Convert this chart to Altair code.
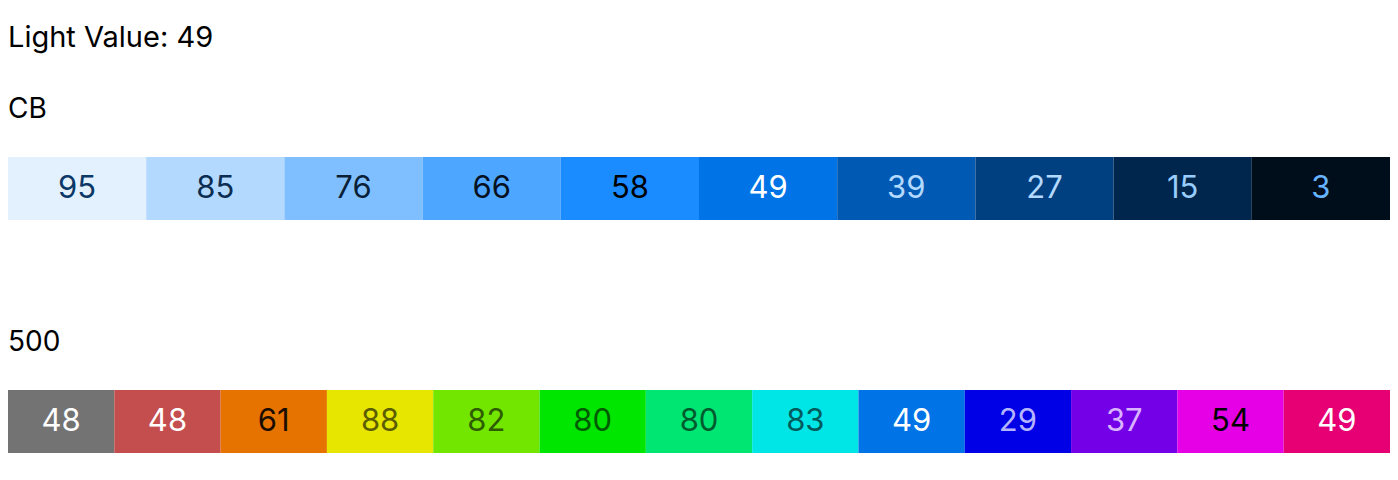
import altair as alt
import pandas as pd

# swatch rows
cb_values = [95, 85, 76, 66, 58, 49, 39, 27, 15, 3]
cb_fill = ["#E3F1FF", "#B3D9FF", "#80BFFF", "#4DA6FF", "#1A8CFF",
           "#0073E6", "#0059B3", "#004080", "#00264D", "#000D1A"]
cb_text = ["#0B3866", "#0B2D52", "#0A1F38", "#05111F", "#000000",
           "#FFFFFF", "#B3D9FF", "#B3D9FF", "#99CCFF", "#66B3FF"]

hue_values = [48, 48, 61, 88, 82, 80, 80, 83, 49, 29, 37, 54, 49]
hue_fill = ["#737373", "#C44D4D", "#E67300", "#E6E600", "#73E600", "#00E600",
            "#00E673", "#00E6E6", "#0073E6", "#0000E6", "#7300E6", "#E600E6",
            "#E60073"]
hue_text = ["#FFFFFF", "#FFFFFF", "#1A0D00", "#5C5C00", "#2E5C00", "#005C00",
            "#005C2E", "#005C5C", "#FFFFFF", "#B3B3FF", "#D9B3FF", "#000000",
            "#FFFFFF"]

FONT = "Inter"
W = 1382
H = 63


def swatch_row(label, values, fills, texts):
    df = pd.DataFrame({
        "idx": list(range(len(values))),
        "value": values,
        "fill": fills,
        "tcolor": texts,
    })
    base = alt.Chart(df).encode(
        x=alt.X("idx:O", axis=None,
                scale=alt.Scale(paddingInner=0, paddingOuter=0)),
    )
    rects = base.mark_rect().encode(color=alt.Color("fill:N", scale=None))
    labels = base.mark_text(font=FONT, fontSize=31).encode(
        text="value:Q",
        color=alt.Color("tcolor:N", scale=None),
    )
    return (rects + labels).properties(
        width=W,
        height=H,
        title=alt.TitleParams(label, anchor="start", fontSize=28,
                              fontWeight="normal", font=FONT, baseline="middle",
                              offset=19, color="#000000"),
    )


chart = alt.vconcat(
    swatch_row("CB", cb_values, cb_fill, cb_text),
    swatch_row("500", hue_values, hue_fill, hue_text),
    spacing=109,
    title=alt.TitleParams("Light Value: 49", anchor="start", fontSize=29,
                          fontWeight="normal", font=FONT, baseline="middle",
                          offset=29, color="#000000"),
    padding={"left": 0, "right": 0, "top": 16, "bottom": 0},
).configure_view(strokeWidth=0)

chart.save("out.html", embed_options={"renderer": "svg", "actions": False})
